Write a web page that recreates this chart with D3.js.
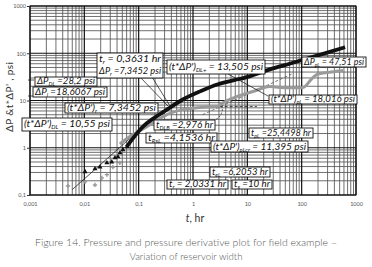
<!DOCTYPE html>
<html>
<head>
<meta charset="utf-8">
<script src="https://cdnjs.cloudflare.com/ajax/libs/d3/7.8.5/d3.min.js"></script>
<style>
  body { margin: 0; background: #fff; }
  svg { display: block; }
</style>
</head>
<body>
<div id="chart"></div>
<script>
// tick values and labels
var xTickValues = [0.001, 0.01, 0.1, 1, 10, 100, 1000];
var xTickLabels = ["0,001", "0,01", "0,1", "1", "10", "100", "1000"];
var yTickValues = [0.1, 1, 10, 100, 1000];
var yTickLabels = ["0,1", "1", "10", "100", "1000"];

// pressure (thick black)
var pressureTime  = [0.06, 0.12, 0.2, 0.33, 0.65, 1.35, 2.8, 5.5, 11, 26, 60, 150, 630];
var pressureValue = [1.05, 2.8, 4.4, 6.4, 10.5, 15.6, 21.8, 26.6, 32.5, 45.6, 60, 82, 134];

// pressure early points (black triangles)
var pressurePtTime  = [0.0103, 0.0157, 0.0194, 0.026, 0.032, 0.0366, 0.0416, 0.0453, 0.0514, 0.061];
var pressurePtValue = [0.31, 0.357, 0.39, 0.48, 0.5, 0.61, 0.64, 0.78, 0.91, 1.05];

// derivative (thick grey)
var derivTime  = [0.045, 0.064, 0.1, 0.18, 0.33, 0.65, 1.35, 2.8, 3.3, 6.5, 12.7, 26, 40, 70, 106, 150, 192, 350, 580];
var derivValue = [1.2, 1.63, 2.2, 3.3, 5.0, 6.4, 7.1, 7.45, 8.5, 12.2, 15.5, 19.8, 18.9, 18.6, 18.9, 28, 35.7, 40, 43];

// derivative early points (grey crosses)
var derivPtTime  = [0.005, 0.0103, 0.0157, 0.021, 0.026, 0.0336, 0.045];
var derivPtValue = [0.155, 0.19, 0.163, 0.23, 0.27, 0.39, 0.48];

// straight lines
var unitSlopeTime  = [0.006, 0.07];
var unitSlopeValue = [0.13, 1.6];
var halfSlopeTime  = [1.5, 65];
var halfSlopeValue = [5, 36];
var radialTime  = [3.1, 15];
var radialValue = [7.45, 7.45];

var margin = { top: 6, right: 16, bottom: 72, left: 30 },
    width = 372 - margin.left - margin.right,
    height = 267 - margin.top - margin.bottom;

var svg = d3.select("#chart")
  .append("svg")
  .attr("width", 372)
  .attr("height", 267);

var g = svg.append("g")
  .attr("transform", "translate(" + margin.left + "," + margin.top + ")");

var x = d3.scaleLog().domain([0.001, 1000]).range([0, width]);
var y = d3.scaleLog().domain([0.1, 1000]).range([height, 0]);

// grid
var minorX = [], minorY = [];
xTickValues.slice(0, -1).forEach(function(d) {
  for (var k = 2; k < 10; k++) minorX.push(d * k);
});
yTickValues.slice(0, -1).forEach(function(d) {
  for (var k = 2; k < 10; k++) minorY.push(d * k);
});

g.selectAll(".vminor").data(minorX).enter().append("line")
  .attr("x1", function(d) { return x(d); }).attr("x2", function(d) { return x(d); })
  .attr("y1", 0).attr("y2", height)
  .attr("stroke", "#555").attr("stroke-width", 0.85);
g.selectAll(".hminor").data(minorY).enter().append("line")
  .attr("y1", function(d) { return y(d); }).attr("y2", function(d) { return y(d); })
  .attr("x1", 0).attr("x2", width)
  .attr("stroke", "#555").attr("stroke-width", 0.85);
g.selectAll(".vmajor").data(xTickValues).enter().append("line")
  .attr("x1", function(d) { return x(d); }).attr("x2", function(d) { return x(d); })
  .attr("y1", 0).attr("y2", height)
  .attr("stroke", "#111").attr("stroke-width", 1.2);
g.selectAll(".hmajor").data(yTickValues).enter().append("line")
  .attr("y1", function(d) { return y(d); }).attr("y2", function(d) { return y(d); })
  .attr("x1", 0).attr("x2", width)
  .attr("stroke", "#111").attr("stroke-width", 1.2);

g.append("rect")
  .attr("width", width).attr("height", height)
  .attr("fill", "none").attr("stroke", "#111").attr("stroke-width", 1);

// axes
var xAxis = g.append("g")
  .attr("transform", "translate(0," + height + ")")
  .call(d3.axisBottom(x).tickValues(xTickValues).tickSize(0).tickPadding(7)
    .tickFormat(function(d, i) { return xTickLabels[i]; }));
var yAxis = g.append("g")
  .call(d3.axisLeft(y).tickValues(yTickValues).tickSize(3).tickPadding(1)
    .tickFormat(function(d, i) { return yTickLabels[i]; }));
[xAxis, yAxis].forEach(function(a) {
  a.select(".domain").remove();
  a.selectAll("text").attr("font-family", "Lato, sans-serif").attr("font-size", 5.5).attr("fill", "#555");
  a.selectAll("line").attr("stroke", "#333");
});

// lines
var line = d3.line()
  .x(function(d) { return x(d[0]); })
  .y(function(d) { return y(d[1]); });
var smooth = d3.line()
  .x(function(d) { return x(d[0]); })
  .y(function(d) { return y(d[1]); })
  .curve(d3.curveMonotoneX);

g.append("path").datum(d3.zip(unitSlopeTime, unitSlopeValue))
  .attr("d", line).attr("fill", "none").attr("stroke", "#222").attr("stroke-width", 0.8);

g.append("path").datum(d3.zip(halfSlopeTime, halfSlopeValue))
  .attr("d", line).attr("fill", "none").attr("stroke", "#555").attr("stroke-width", 0.8)
  .attr("stroke-dasharray", "3,2");

g.append("path").datum(d3.zip(radialTime, radialValue))
  .attr("d", line).attr("fill", "none").attr("stroke", "#222").attr("stroke-width", 0.8)
  .attr("stroke-dasharray", "3,2");

g.append("path").datum(d3.zip(derivTime, derivValue))
  .attr("d", smooth).attr("fill", "none").attr("stroke", "#9a9a9a").attr("stroke-width", 3)
  .attr("stroke-linejoin", "round");

g.append("path").datum(d3.zip(pressureTime, pressureValue))
  .attr("d", smooth).attr("fill", "none").attr("stroke", "#111").attr("stroke-width", 3.8)
  .attr("stroke-linejoin", "round");

g.selectAll(".dpt").data(d3.zip(derivPtTime, derivPtValue)).enter().append("path")
  .attr("transform", function(d) { return "translate(" + x(d[0]) + "," + y(d[1]) + ")"; })
  .attr("d", d3.symbol().type(d3.symbolCross).size(10))
  .attr("fill", "#999");

g.selectAll(".ppt").data(d3.zip(pressurePtTime, pressurePtValue)).enter().append("path")
  .attr("transform", function(d) { return "translate(" + x(d[0]) + "," + y(d[1]) + ")"; })
  .attr("d", d3.symbol().type(d3.symbolTriangle).size(11))
  .attr("fill", "#111");

// leader lines (page coordinates)
var leaders = [
  [140, 77, 168, 106],
  [152, 77, 170, 106],
  [228, 74, 268, 96],
  [28, 80, 34, 80],
  [28, 96, 34, 96]
];
svg.selectAll(".leader").data(leaders).enter().append("line")
  .attr("x1", function(d) { return d[0]; }).attr("y1", function(d) { return d[1]; })
  .attr("x2", function(d) { return d[2]; }).attr("y2", function(d) { return d[3]; })
  .attr("stroke", "#111").attr("stroke-width", 0.7);
svg.append("path")
  .attr("d", "M213,121 Q224,116 222,106")
  .attr("fill", "none").attr("stroke", "#111").attr("stroke-width", 0.7)
  .attr("stroke-dasharray", "2,1.5");

// annotation boxes: [x0, y0, x1, y1], lines of text
var notes = [
  { box: [35, 77, 97, 86], lines: ["ΔP_{DL} =28,2 psi"] },
  { box: [33, 87, 107, 97], lines: ["ΔP_{i} =18,6067 psi"] },
  { box: [97, 53, 163, 78], lines: ["t_{r} = 0,3631 hr", "ΔP_{r} =7,3452 psi"] },
  { box: [65, 103, 158, 113], lines: ["(t*ΔP')_{r} = 7,3452 psi"] },
  { box: [22, 118, 112, 131], lines: ["(t*ΔP')_{DL} = 10,55 psi"] },
  { box: [167, 60, 265, 74], lines: ["(t*ΔP')_{DL+} = 13,505 psi"] },
  { box: [302, 57, 366, 67], lines: ["ΔP_{pL} = 47,51 psi"] },
  { box: [269, 95, 357, 104], lines: ["(t*ΔP')_{pL} = 18,016 psi"] },
  { box: [154, 120, 215, 130], lines: ["t_{DLB} =2,976 hr"] },
  { box: [146, 133, 217, 143], lines: ["t_{RsL} =4,1536 hr"] },
  { box: [211, 141, 308, 152], lines: ["(t*ΔP')_{pLcr} = 11,395 psi"] },
  { box: [249, 128, 313, 138], lines: ["t_{pL} =25,4498 hr"] },
  { box: [210, 167, 270, 177], lines: ["t_{eL} =6,2053 hr"] },
  { box: [167, 180, 228, 189], lines: ["t_{r} = 2,0331 hr"] },
  { box: [232, 180, 272, 189], lines: ["t_{x} =10 hr"] }
];

notes.forEach(function(n) {
  var b = n.box;
  svg.append("rect")
    .attr("x", b[0]).attr("y", b[1])
    .attr("width", b[2] - b[0]).attr("height", b[3] - b[1])
    .attr("fill", "#fff").attr("stroke", "#111").attr("stroke-width", 0.9);
  var lh = (b[3] - b[1]) / n.lines.length;
  n.lines.forEach(function(s, i) {
    var t = svg.append("text")
      .attr("x", b[0] + 2)
      .attr("y", b[1] + lh * (i + 1) - (lh > 11 ? 4 : 2.2))
      .attr("font-family", "Lato, 'Open Sans', sans-serif")
      .attr("font-style", "italic")
      .attr("font-size", 8.6)
      .attr("fill", "#111")
      .attr("textLength", b[2] - b[0] - 4)
      .attr("lengthAdjust", "spacingAndGlyphs");
    var parts = s.split(/(_\{[^}]*\})/);
    var shifted = false;
    parts.forEach(function(p) {
      if (!p) return;
      if (p.indexOf("_{") === 0) {
        t.append("tspan").attr("dy", 2).attr("font-size", 5).text(p.slice(2, -1));
        shifted = true;
      } else {
        var ts = t.append("tspan").text(p);
        if (shifted) { ts.attr("dy", -2); shifted = false; }
      }
    });
  });
});

// axis titles
svg.append("text")
  .attr("transform", "translate(13,97) rotate(-90)")
  .attr("text-anchor", "middle")
  .attr("font-family", "Lato, sans-serif")
  .attr("font-size", 10)
  .attr("fill", "#333")
  .attr("textLength", 70)
  .text("ΔP &t*ΔP' , psi");

var xt = svg.append("text")
  .attr("x", 195).attr("y", 222)
  .attr("text-anchor", "middle")
  .attr("font-family", "Lato, sans-serif")
  .attr("font-size", 10.5)
  .attr("fill", "#333");
xt.append("tspan").attr("font-style", "italic").text("t");
xt.append("tspan").text(", hr");

// caption
var caption = ["Figure 14. Pressure and pressure derivative plot for field example –",
               "Variation of reservoir width"];
var captionWidth = [302, 113];
svg.selectAll(".cap").data(caption).enter().append("text")
  .attr("x", 186)
  .attr("y", function(d, i) { return 246 + i * 13.5; })
  .attr("text-anchor", "middle")
  .attr("font-family", "Lato, sans-serif")
  .attr("font-weight", 300)
  .attr("font-size", 10.5)
  .attr("fill", "#555")
  .attr("textLength", function(d, i) { return captionWidth[i]; })
  .attr("lengthAdjust", "spacingAndGlyphs")
  .text(function(d) { return d; });
</script>
</body>
</html>
